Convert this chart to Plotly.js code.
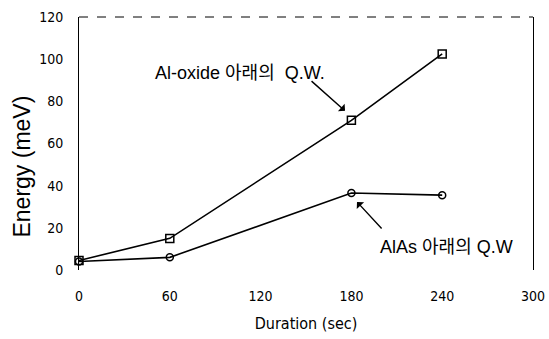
<!DOCTYPE html>
<html><head><meta charset="utf-8">
<script src="https://cdn.plot.ly/plotly-3.0.1.min.js"></script>
<style>html,body{margin:0;padding:0;background:#fff}#c{width:549px;height:339px}</style>
</head><body><div id="c"></div>
<script>
const durations = [0, 60, 180, 240];
const oxideEnergy = [4.5, 15, 71, 102.5];
const alasEnergy = [4, 6, 36.5, 35.5];
const xTicks = [0, 60, 120, 180, 240, 300];
const yTicks = [0, 20, 40, 60, 80, 100, 120];
const labelOxide = "Al-oxide 아래의\u00a0\u00a0Q.W.";
const labelAlas = "AlAs 아래의 Q.W";
const xTitle = "Duration (sec)";
const yTitle = "Energy (meV)";

const F = "'DejaVu Sans Condensed', 'Noto Sans CJK KR', sans-serif";
const FA = "'Liberation Sans', Arial, 'Noto Sans CJK KR', sans-serif";
const traces = [
  {x: durations, y: oxideEnergy, mode: 'lines+markers', line: {color: '#000', width: 1.6},
   marker: {symbol: 'square-open', size: 8, color: '#000', line: {width: 1.5}}, cliponaxis: false},
  {x: durations, y: alasEnergy, mode: 'lines+markers', line: {color: '#000', width: 1.6},
   marker: {symbol: 'circle-open', size: 7, color: '#000', line: {width: 1.5}}, cliponaxis: false}
];
const layout = {
  width: 549, height: 339,
  margin: {l: 79, r: 16, t: 17, b: 69},
  paper_bgcolor: '#fff', plot_bgcolor: '#fff',
  showlegend: false,
  font: {family: F, color: '#000'},
  xaxis: {range: [0, 300], tickvals: xTicks, ticktext: xTicks.map(String), showgrid: false, zeroline: false,
    showline: false, ticks: '', tickfont: {size: 14, family: F}, ticklabelstandoff: 16,
    title: {text: xTitle, font: {size: 16, family: F}, standoff: 14}},
  yaxis: {range: [0, 120], tickvals: yTicks, ticktext: yTicks.map(String), showgrid: false, zeroline: false,
    showline: true, linecolor: '#000', linewidth: 1, mirror: true, ticks: '', tickfont: {size: 14, family: F},
    ticklabelstandoff: 12},
  shapes: [
    {type: 'line', xref: 'paper', yref: 'paper', x0: 0, x1: 1, y0: 1, y1: 1, line: {color: '#000', width: 1, dash: 'dash'}}
  ],
  annotations: [
    {x: -0.125, y: 0.41, xref: 'paper', yref: 'paper', text: yTitle, textangle: -90, showarrow: false,
     xanchor: 'center', yanchor: 'middle', font: {size: 23, family: FA}},
    {x: 175.8, y: 75.5, xref: 'x', yref: 'y', text: '', showarrow: true, arrowhead: 1, arrowsize: 1.2, arrowwidth: 1.4,
     arrowcolor: '#000', ax: -35, ay: -31},
    {x: 183.7, y: 32.3, xref: 'x', yref: 'y', text: '', showarrow: true, arrowhead: 1, arrowsize: 1.2, arrowwidth: 1.4,
     arrowcolor: '#000', ax: 26, ay: 28},
    {x: 106.5, y: 93.5, xref: 'x', yref: 'y', text: labelOxide, showarrow: false, xanchor: 'center', yanchor: 'middle',
     font: {size: 18, family: FA}},
    {x: 243, y: 11, xref: 'x', yref: 'y', text: labelAlas, showarrow: false, xanchor: 'center', yanchor: 'middle',
     font: {size: 18, family: FA}}
  ]
};
Plotly.newPlot('c', traces, layout, {staticPlot: true, displayModeBar: false});
</script></body></html>
